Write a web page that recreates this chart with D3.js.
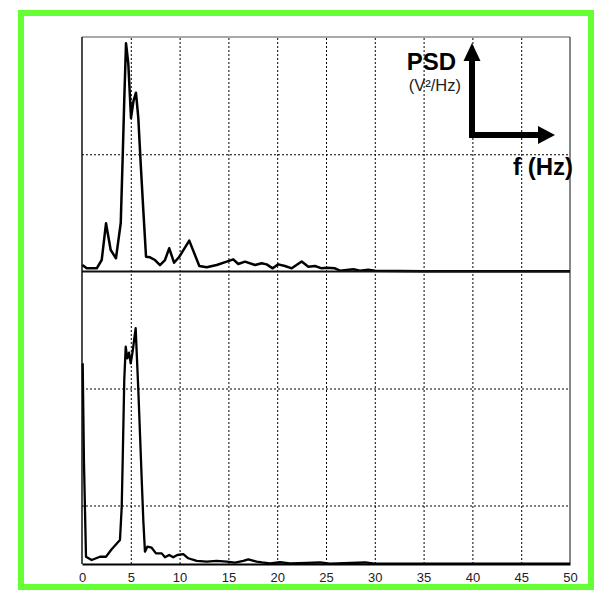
<!DOCTYPE html>
<html>
<head>
<meta charset="utf-8">
<script src="https://cdn.jsdelivr.net/npm/d3@7"></script>
<style>
  html, body { margin: 0; padding: 0; background: #fff; }
  svg { display: block; }
</style>
</head>
<body>
<svg id="chart" width="595" height="590"></svg>
<script>
// Frequency axis ticks (Hz)
const xTicks = [0, 5, 10, 15, 20, 25, 30, 35, 40, 45, 50];

// Upper spectrum: frequency (Hz) and PSD
const topFreq = [0.03, 0.48, 1.51, 2.02, 2.46, 2.94, 3.48, 3.97, 4.17, 4.33, 4.51, 4.74, 5.02, 5.26, 5.53, 5.77,
  6.01, 6.28, 6.56, 6.97, 7.48, 7.99, 8.50, 8.94, 9.43, 9.97, 10.99, 12.02, 12.78, 13.80, 14.83, 15.50,
  16.01, 16.70, 17.73, 18.41, 18.92, 19.54, 20.11, 20.80, 21.49, 22.51, 23.19, 23.87, 24.56, 25.07,
  25.92, 26.43, 27.80, 28.48, 29.33, 30.02, 35, 40, 45, 50];
const topPsd = [0.055, 0.027, 0.027, 0.098, 0.411, 0.183, 0.113, 0.414, 0.979, 1.463, 1.946, 1.778, 1.309, 1.448, 1.525, 1.309,
  0.925, 0.525, 0.126, 0.121, 0.098, 0.055, 0.098, 0.198, 0.075, 0.126, 0.263, 0.047, 0.036, 0.055, 0.084, 0.104,
  0.064, 0.084, 0.055, 0.070, 0.061, 0.027, 0.061, 0.047, 0.027, 0.085, 0.041, 0.047, 0.027, 0.032,
  0.027, 0.007, 0.019, 0.007, 0.015, 0.007, 0.003, 0.003, 0.003, 0.003];

// Lower spectrum: frequency (Hz) and PSD
const bottomFreq = [0.07, 0.20, 0.41, 0.99, 1.84, 2.46, 3.04, 3.89, 4.07, 4.17, 4.33, 4.48, 4.64, 4.82, 4.99, 5.19,
  5.36, 5.50, 5.60, 5.77, 5.94, 6.12, 6.28, 6.45, 6.69, 7.14, 7.58, 8.17, 8.50, 8.94, 9.35, 9.76,
  10.38, 10.89, 11.75, 12.78, 13.80, 14.83, 15.68, 16.53, 17.04, 17.90, 18.44, 19.26, 20.29, 21.31,
  23.02, 24.39, 25.40, 29.00, 30.00, 35, 40, 45, 50];
const bottomPsd = [1.715, 0.874, 0.062, 0.034, 0.062, 0.062, 0.126, 0.205, 0.490, 0.889, 1.573, 1.857, 1.758, 1.806, 1.715, 1.815,
  1.929, 2.015, 1.815, 1.487, 1.117, 0.718, 0.376, 0.105, 0.148, 0.139, 0.091, 0.091, 0.057, 0.077, 0.057, 0.077,
  0.085, 0.049, 0.026, 0.020, 0.026, 0.020, 0.011, 0.026, 0.040, 0.020, 0.013, 0.006, 0.015, 0.006,
  0.010, 0.013, 0.004, 0.013, 0.003, 0.003, 0.003, 0.003, 0.003];

// Grid levels in each panel
const topGrid = [1];
const bottomGrid = [0.5, 1.5];

(function draw() {
  const svg = d3.select("#chart");
  const plotLeft = 82, plotRight = 570, plotTop = 37, plotMid = 271.5, plotBottom = 564;

  const x = d3.scaleLinear().domain([0, 50]).range([plotLeft, plotRight]);
  const yTop = d3.scaleLinear().domain([0, 2]).range([plotMid, plotTop]);
  const yBot = d3.scaleLinear().domain([0, 2.5]).range([plotBottom, plotMid]);

  // Green frame
  svg.append("rect")
    .attr("x", 21).attr("y", 13).attr("width", 570).attr("height", 574)
    .attr("fill", "#fff").attr("stroke", "#66ff33").attr("stroke-width", 6);

  // Vertical dotted grid through both panels
  const vGrid = svg.append("g")
    .attr("transform", `translate(0,${plotBottom})`)
    .call(d3.axisBottom(x).tickValues(xTicks.slice(1, -1)).tickSize(-(plotBottom - plotTop)).tickFormat(""));
  vGrid.select(".domain").remove();
  vGrid.selectAll("line").attr("stroke", "#000").attr("stroke-width", 1).attr("stroke-dasharray", "2,2");

  // Horizontal dotted grid
  function hGrid(scale, vals) {
    const g = svg.append("g")
      .attr("transform", `translate(${plotLeft},0)`)
      .call(d3.axisLeft(scale).tickValues(vals).tickSize(-(plotRight - plotLeft)).tickFormat(""));
    g.select(".domain").remove();
    g.selectAll("line").attr("stroke", "#000").attr("stroke-width", 1).attr("stroke-dasharray", "2,2");
  }
  hGrid(yTop, topGrid);
  hGrid(yBot, bottomGrid);

  // Panel frames
  svg.append("line").attr("x1", plotLeft).attr("x2", plotRight).attr("y1", plotTop).attr("y2", plotTop)
    .attr("stroke", "#555").attr("stroke-width", 1.2);
  svg.append("line").attr("x1", plotRight).attr("x2", plotRight).attr("y1", plotTop).attr("y2", plotBottom)
    .attr("stroke", "#555").attr("stroke-width", 1.4);
  svg.append("line").attr("x1", plotLeft).attr("x2", plotLeft).attr("y1", plotTop).attr("y2", plotBottom)
    .attr("stroke", "#000").attr("stroke-width", 1.4);

  // Spectra
  const lineTop = d3.line().x((d, i) => x(topFreq[i])).y(d => yTop(d));
  const lineBot = d3.line().x((d, i) => x(bottomFreq[i])).y(d => yBot(d));
  svg.append("path").attr("d", lineTop(topPsd))
    .attr("fill", "none").attr("stroke", "#000").attr("stroke-width", 2.5).attr("stroke-linejoin", "round");
  svg.append("path").attr("d", lineBot(bottomPsd))
    .attr("fill", "none").attr("stroke", "#000").attr("stroke-width", 2.3).attr("stroke-linejoin", "round");

  // Panel baseline between the two spectra
  svg.append("line").attr("x1", plotLeft).attr("x2", plotRight).attr("y1", plotMid).attr("y2", plotMid)
    .attr("stroke", "#111").attr("stroke-width", 2);

  // Frequency axis with labels
  const xAxis = svg.append("g")
    .attr("transform", `translate(0,${plotBottom})`)
    .call(d3.axisBottom(x).tickValues(xTicks).tickSize(0).tickPadding(9));
  xAxis.select(".domain").attr("stroke", "#000").attr("stroke-width", 2);
  xAxis.selectAll("text")
    .attr("font-family", "'Liberation Sans', Arial, sans-serif")
    .attr("font-size", 13).attr("fill", "#222");

  // Axis-orientation key: PSD up, frequency right
  const key = svg.append("g");
  const ax = 472, ay = 135;
  key.append("line").attr("x1", ax).attr("y1", ay + 3).attr("x2", ax).attr("y2", 60)
    .attr("stroke", "#000").attr("stroke-width", 6);
  key.append("path").attr("d", `M${ax - 8.5},61 L${ax},43 L${ax + 8.5},61 Z`).attr("fill", "#000");
  key.append("line").attr("x1", ax - 3).attr("y1", ay).attr("x2", 540).attr("y2", ay)
    .attr("stroke", "#000").attr("stroke-width", 6);
  key.append("path").attr("d", `M538,${ay - 9} L555,${ay} L538,${ay + 9} Z`).attr("fill", "#000");

  key.append("text").attr("x", 456).attr("y", 70).attr("text-anchor", "end")
    .attr("font-family", "'Liberation Sans', Arial, sans-serif").attr("font-weight", "bold")
    .attr("font-size", 24).attr("fill", "#000").text("PSD");
  key.append("text").attr("x", 461).attr("y", 91).attr("text-anchor", "end")
    .attr("font-family", "'Liberation Sans', Arial, sans-serif")
    .attr("font-size", 16.5).attr("fill", "#222").text("(V²/Hz)");
  key.append("text").attr("x", 513).attr("y", 175)
    .attr("font-family", "'Liberation Sans', Arial, sans-serif").attr("font-weight", "bold")
    .attr("font-size", 24).attr("fill", "#000").text("f (Hz)");
})();
</script>
</body>
</html>
